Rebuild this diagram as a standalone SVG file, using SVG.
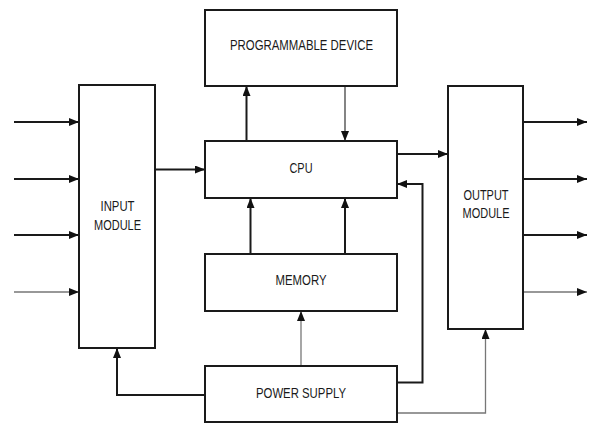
<svg xmlns="http://www.w3.org/2000/svg" width="589" height="423" viewBox="0 0 589 423">
<defs>
<marker id="ah" markerWidth="10" markerHeight="8" refX="10" refY="4" orient="auto" markerUnits="userSpaceOnUse">
<path d="M0,0 L10,4 L0,8 Z" fill="#111"/>
</marker>
<style>
.box{fill:#fff;stroke:#1a1a1a;stroke-width:2}
.ln{fill:none;stroke:#1a1a1a;stroke-width:2}
.thin{fill:none;stroke:#333;stroke-width:1.2}
.grey{fill:none;stroke:#777;stroke-width:1.3}
text{font-family:"Liberation Sans",Arial,sans-serif;font-size:14px;fill:#1a1a1a;text-anchor:middle}
</style>
</defs>
<rect width="589" height="423" fill="#fff"/>
<g id="connectors">
<line class="ln" x1="14" y1="122" x2="79" y2="122" marker-end="url(#ah)"/>
<line class="ln" x1="14" y1="179" x2="79" y2="179" marker-end="url(#ah)"/>
<line class="ln" x1="14" y1="235" x2="79" y2="235" marker-end="url(#ah)"/>
<line class="thin" x1="14" y1="292" x2="79" y2="292" marker-end="url(#ah)"/>
<line class="ln" x1="523" y1="122" x2="587" y2="122" marker-end="url(#ah)"/>
<line class="ln" x1="523" y1="179" x2="587" y2="179" marker-end="url(#ah)"/>
<line class="ln" x1="523" y1="235" x2="587" y2="235" marker-end="url(#ah)"/>
<line class="thin" x1="523" y1="292" x2="587" y2="292" marker-end="url(#ah)"/>
<line class="ln" x1="155" y1="169.5" x2="205" y2="169.5" marker-end="url(#ah)"/>
<line class="ln" x1="397" y1="154" x2="448" y2="154" marker-end="url(#ah)"/>
<line class="ln" x1="246.5" y1="141" x2="246.5" y2="86" marker-end="url(#ah)"/>
<line class="thin" x1="345" y1="86" x2="345" y2="141" marker-end="url(#ah)"/>
<line class="ln" x1="250.5" y1="254" x2="250.5" y2="198" marker-end="url(#ah)"/>
<line class="ln" x1="345" y1="254" x2="345" y2="198" marker-end="url(#ah)"/>
<line class="grey" x1="301" y1="366" x2="301" y2="311" marker-end="url(#ah)"/>
<polyline class="ln" points="205,395 117,395 117,348" marker-end="url(#ah)"/>
<polyline class="ln" points="397,382.5 422.5,382.5 422.5,184 397,184" marker-end="url(#ah)"/>
<polyline class="grey" points="397,413 485.5,413 485.5,329" marker-end="url(#ah)"/>
</g>
<g id="programmable-device">
<rect class="box" x="205" y="10" width="192" height="76"/>
<text x="301.5" y="49.5" textLength="143" lengthAdjust="spacingAndGlyphs">PROGRAMMABLE DEVICE</text>
</g>
<g id="input-module">
<rect class="box" x="79" y="85" width="76" height="263"/>
<text x="117.5" y="211" textLength="34" lengthAdjust="spacingAndGlyphs">INPUT</text>
<text x="117.5" y="229.5" textLength="47" lengthAdjust="spacingAndGlyphs">MODULE</text>
</g>
<g id="cpu">
<rect class="box" x="205" y="141" width="192" height="57"/>
<text x="301" y="173" textLength="23" lengthAdjust="spacingAndGlyphs">CPU</text>
</g>
<g id="memory">
<rect class="box" x="205" y="254" width="192" height="57"/>
<text x="301" y="284.5" textLength="51" lengthAdjust="spacingAndGlyphs">MEMORY</text>
</g>
<g id="power-supply">
<rect class="box" x="205" y="366" width="192" height="56"/>
<text x="301" y="397.5" textLength="90" lengthAdjust="spacingAndGlyphs">POWER SUPPLY</text>
</g>
<g id="output-module">
<rect class="box" x="448" y="86" width="75" height="243"/>
<text x="486" y="200" textLength="45" lengthAdjust="spacingAndGlyphs">OUTPUT</text>
<text x="486" y="218" textLength="47" lengthAdjust="spacingAndGlyphs">MODULE</text>
</g>
</svg>
